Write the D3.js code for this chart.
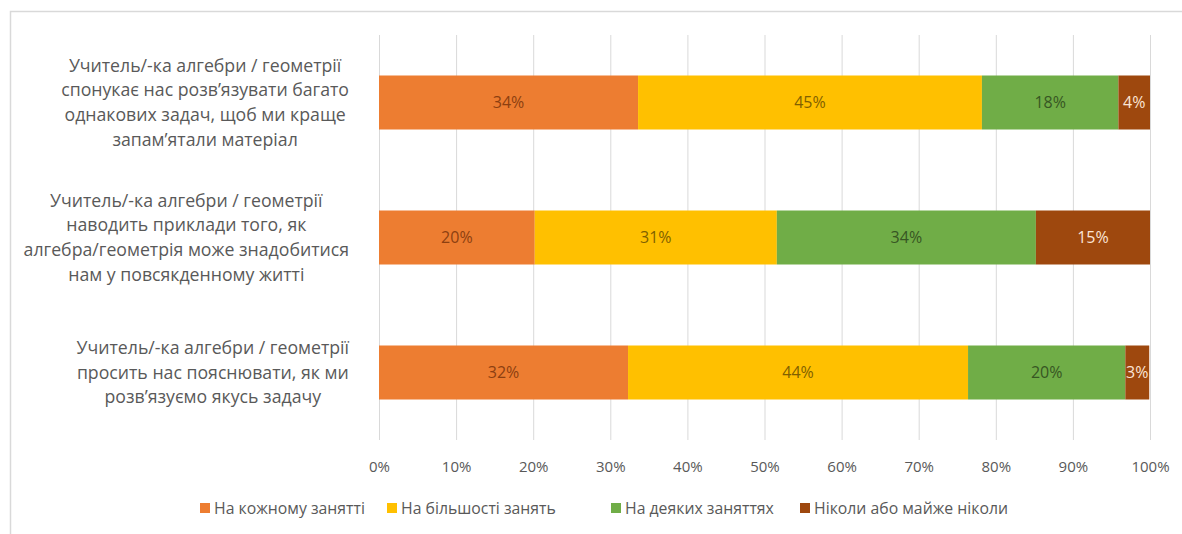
<!DOCTYPE html>
<html>
<head>
<meta charset="utf-8">
<script src="https://cdn.jsdelivr.net/npm/d3@7"></script>
<style>
html,body{margin:0;padding:0;background:#fff;}
svg{display:block;}
</style>
</head>
<body>
<svg id="chart" width="1182" height="534"></svg>
<script>
const categories = [
  ["Учитель/-ка алгебри / геометрії", "спонукає нас розв’язувати багато", "однакових задач, щоб ми краще", "запам’ятали матеріал"],
  ["Учитель/-ка алгебри / геометрії", "наводить приклади того, як", "алгебра/геометрія може знадобитися", "нам у повсякденному житті"],
  ["Учитель/-ка алгебри / геометрії", "просить нас пояснювати, як ми", "розв’язуємо якусь задачу"]
];
const seriesNames = ["На кожному занятті", "На більшості занять", "На деяких заняттях", "Ніколи або майже ніколи"];
const everyLesson = [33.6, 20.2, 32.3];
const mostLessons = [44.6, 31.4, 44.1];
const someLessons = [17.7, 33.6, 20.4];
const never = [4.1, 14.8, 3.1];
const tickValues = [0, 10, 20, 30, 40, 50, 60, 70, 80, 90, 100];

const colors = ["#ED7D31", "#FFC000", "#70AD47", "#9E480E"];
const labelColors = ["#8C3F10", "#7F6000", "#375623", "#FBE5D6"];
const seriesValues = [everyLesson, mostLessons, someLessons, never];

const svg = d3.select("#chart");
const W = 1182, H = 534;
const font = "'Open Sans','Noto Sans',sans-serif";
const catFont = "'Open Sans','Noto Sans',sans-serif";

// border
svg.append("path").attr("d", `M10.5,${H} L10.5,11.5 L${W},11.5`)
  .attr("fill", "none").attr("stroke", "#d9d9d9").attr("stroke-width", 1.5);

const x = d3.scaleLinear().domain([0, 100]).range([379, 1150]);
const y = d3.scaleBand().domain(d3.range(categories.length)).range([35, 440]).paddingInner(0.6).paddingOuter(0.3);

// gridlines
svg.append("g").selectAll("line").data(tickValues).join("line")
  .attr("x1", d => x(d) + 0.5).attr("x2", d => x(d) + 0.5)
  .attr("y1", 35).attr("y2", 440)
  .attr("stroke", "#d9d9d9").attr("stroke-width", 1);

// axis labels
const xAxis = d3.axisBottom(x).tickValues(tickValues).tickFormat(d => d + "%").tickSize(0).tickPadding(0);
const ax = svg.append("g").attr("transform", "translate(0,462)").call(xAxis);
ax.select(".domain").remove();
ax.selectAll("text").attr("font-family", font).attr("font-size", 15).attr("fill", "#595959").attr("dy", "0.35em").attr("y", 5);

// stacked data
const stackData = categories.map((c, i) => {
  const o = {i};
  seriesNames.forEach((s, k) => o[k] = seriesValues[k][i]);
  return o;
});
const stack = d3.stack().keys(d3.range(seriesNames.length))(stackData);

const gS = svg.append("g").selectAll("g").data(stack).join("g");
gS.selectAll("rect").data(d => d.map(v => ({v, k: d.key}))).join("rect")
  .attr("x", d => x(d.v[0]))
  .attr("width", d => x(d.v[1]) - x(d.v[0]))
  .attr("y", d => y(d.v.data.i))
  .attr("height", y.bandwidth())
  .attr("fill", d => colors[d.k]);

gS.selectAll("text").data(d => d.map(v => ({v, k: d.key}))).join("text")
  .attr("x", d => (x(d.v[0]) + x(d.v[1])) / 2)
  .attr("y", d => y(d.v.data.i) + y.bandwidth() / 2)
  .attr("dy", "0.35em")
  .attr("text-anchor", "middle")
  .attr("font-family", font).attr("font-size", 16)
  .attr("fill", d => labelColors[d.k])
  .text(d => Math.round(d.v[1] - d.v[0]) + "%");

// category labels
const lineH = 24.7;
categories.forEach((lines, i) => {
  const g = svg.append("g");
  const cy = y(i) + y.bandwidth() / 2;
  const t0 = cy - (lines.length - 1) * lineH / 2;
  const texts = g.selectAll("text").data(lines).join("text")
    .attr("y", (d, j) => t0 + j * lineH)
    .attr("dy", "0.35em")
    .attr("text-anchor", "middle")
    .attr("font-family", catFont).attr("font-size", 17.7)
    .attr("fill", "#595959")
    .text(d => d);
  let maxW = 0;
  texts.each(function() { maxW = Math.max(maxW, this.getComputedTextLength()); });
  texts.attr("x", 349 - maxW / 2);
});

// legend
const legendX = [200, 387, 611, 800];
const lg = svg.append("g").selectAll("g").data(seriesNames).join("g")
  .attr("transform", (d, i) => `translate(${legendX[i]},508)`);
lg.append("rect").attr("x", 0).attr("y", -5).attr("width", 10).attr("height", 10).attr("fill", (d, i) => colors[i]);
lg.append("text").attr("x", 14).attr("dy", "0.35em")
  .attr("font-family", catFont).attr("font-size", 15.8).attr("fill", "#595959").text(d => d);
</script>
</body>
</html>
